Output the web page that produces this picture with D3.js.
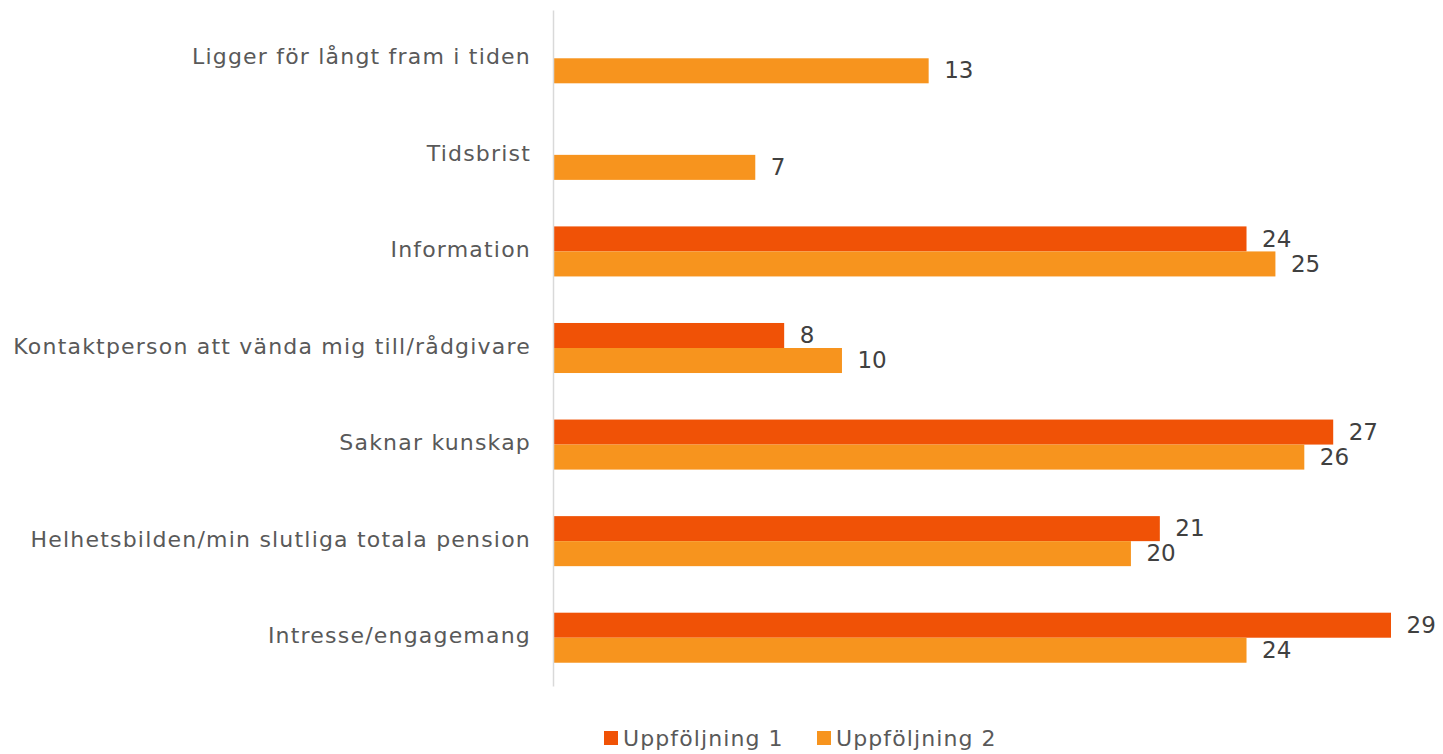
<!DOCTYPE html>
<html>
<head>
<meta charset="utf-8">
<script src="https://cdn.jsdelivr.net/npm/d3@7"></script>
<style>
  html, body { margin: 0; padding: 0; background: #fff; }
  svg { display: block; font-family: "DejaVu Sans", Verdana, sans-serif; }
</style>
</head>
<body>
<svg id="chart" width="1443" height="754"></svg>
<script>
// Reasons, top to bottom
const categories = [
  "Ligger för långt fram i tiden",
  "Tidsbrist",
  "Information",
  "Kontaktperson att vända mig till/rådgivare",
  "Saknar kunskap",
  "Helhetsbilden/min slutliga totala pension",
  "Intresse/engagemang"
];
const seriesNames = ["Uppföljning 1", "Uppföljning 2"];
const uppfoljning1 = [null, null, 24, 8, 27, 21, 29];
const uppfoljning2 = [13, 7, 25, 10, 26, 20, 24];
const colors = ["#F05206", "#F7941E"];

const svg = d3.select("#chart");
const margin = { left: 553, top: 10, right: 52, bottom: 68 };
const width = 1443, height = 754;

const x = d3.scaleLinear().domain([0, 29]).range([margin.left, 1391]);
const y = d3.scaleBand().domain(categories).range([margin.top, height - margin.bottom]).paddingInner(0).paddingOuter(0);
const sub = d3.scaleBand().domain(seriesNames).range([0, y.bandwidth()]).paddingInner(0).paddingOuter(0.93);

const rows = [];
categories.forEach((c, i) => {
  [uppfoljning1, uppfoljning2].forEach((arr, s) => {
    if (arr[i] != null) rows.push({ cat: c, series: seriesNames[s], value: arr[i], color: colors[s] });
  });
});

// bars
svg.append("g").selectAll("rect").data(rows).join("rect")
  .attr("x", x(0))
  .attr("y", d => y(d.cat) + sub(d.series))
  .attr("width", d => x(d.value) - x(0))
  .attr("height", sub.bandwidth())
  .attr("fill", d => d.color);

// value labels
svg.append("g").selectAll("text").data(rows).join("text")
  .attr("x", d => x(d.value) + 15.5)
  .attr("y", d => y(d.cat) + sub(d.series) + sub.bandwidth() / 2)
  .attr("dy", "0.33em")
  .attr("font-size", 23)
  .attr("fill", "#404040")
  .text(d => d.value);

// vertical axis line with category labels
const yAxis = d3.axisLeft(y).tickSize(0).tickPadding(22);
const gy = svg.append("g").attr("transform", `translate(${x(0)},0)`).call(yAxis);
gy.select(".domain").attr("stroke", "#D9D9D9").attr("stroke-width", 1.5);
gy.selectAll("text")
  .attr("font-size", 22)
  .attr("letter-spacing", "1.2px")
  .attr("font-family", "DejaVu Sans, Verdana, sans-serif")
  .attr("fill", "#595959")
  .attr("dy", "0.26em");

// legend
const legendX = [604, 817];
const lg = svg.append("g").selectAll("g").data(seriesNames).join("g")
  .attr("transform", (d, i) => `translate(${legendX[i]},731)`);
lg.append("rect").attr("width", 14).attr("height", 14).attr("fill", (d, i) => colors[i]);
lg.append("text").attr("x", 19).attr("y", 7).attr("dy", "0.36em")
  .attr("font-size", 22).attr("letter-spacing", "1.1px")
  .attr("fill", "#595959").text(d => d);
</script>
</body>
</html>
